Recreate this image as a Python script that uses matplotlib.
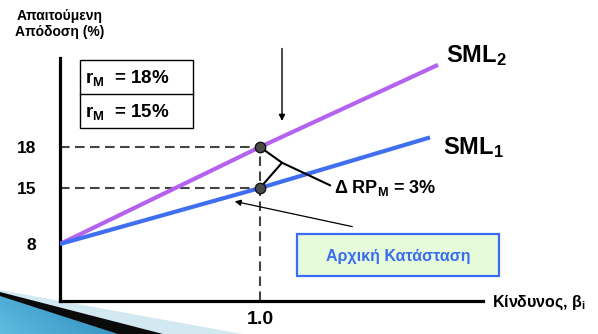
import numpy as np
import matplotlib
matplotlib.use("Agg")
import matplotlib.pyplot as plt
from matplotlib.patches import Rectangle, Polygon
from matplotlib.scale import FuncScale

plt.rcParams["font.family"] = ["Liberation Sans", "DejaVu Sans"]
plt.rcParams["mathtext.fontset"] = "custom"
plt.rcParams["mathtext.rm"] = "Liberation Sans"
plt.rcParams["mathtext.bf"] = "Liberation Sans:bold"
plt.rcParams["mathtext.it"] = "Liberation Sans:italic"

# ---- data -------------------------------------------------------------
beta_sml1 = [0.0, 1.0, 1.85]
ret_sml1 = [8.0, 15.0, 18.7]
beta_sml2 = [0.0, 1.0, 1.89]
ret_sml2 = [8.0, 18.0, 24.0]
beta_market = 1.0
rm_old = 15
rm_new = 18
ytick_vals = [8, 15, 18]
ytick_labels = ["8", "15", "18"]
xtick_vals = [1.0]
xtick_labels = ["1.0"]
box_labels = [r"r$_{\mathbf{M}}$  = 18%", r"r$_{\mathbf{M}}$  = 15%"]

# schematic (non-uniform) return axis: value -> height above the x axis
y_knots = [0.0, 8.0, 15.0, 18.0, 24.5, 40.0]
y_height = [0.0, 57.0, 113.0, 154.0, 243.0, 455.0]


def fwd(v):
    return np.interp(v, y_knots, y_height)


def inv(p):
    return np.interp(p, y_height, y_knots)


W, H = 598, 334
fig = plt.figure(figsize=(W / 100, H / 100), dpi=100)


def fp(x, y):
    """figure-pixel (from top-left) to figure fraction"""
    return x / W, 1 - y / H


# slide decoration in the lower-left corner
light = Polygon([fp(0, 290), fp(242, 334), fp(0, 334)], closed=True,
                transform=fig.transFigure, fc="#d3e9f1", ec="none", zorder=0)
dark = Polygon([fp(0, 292), fp(163, 334), fp(0, 334)], closed=True,
               transform=fig.transFigure, fc="#0a0a0a", ec="none", zorder=0)
fig.patches.append(light)
fig.patches.append(dark)

gax = fig.add_axes([0, 0, 120 / W, 40 / H], zorder=0.5)
gax.axis("off")
gax.set_xlim(0, 120)
gax.set_ylim(0, 40)
grad = np.linspace(0, 1, 64)[None, :] * 0.7 + np.linspace(1, 0, 32)[:, None] * 0.3
img = gax.imshow(grad, cmap=matplotlib.colors.LinearSegmentedColormap.from_list(
    "deco", ["#5cbde0", "#2a84b8"]), aspect="auto", extent=(0, 120, 0, 40),
    origin="upper")
blue = Polygon([(0, 38), (118, 0), (0, 0)], closed=True, transform=gax.transData,
               fc="none", ec="none")
gax.add_patch(blue)
img.set_clip_path(blue)

ax = fig.add_axes([60 / W, (H - 301) / H, (483 - 60) / W, (301 - 58) / H], zorder=1)
ax.set_yscale(FuncScale(ax.yaxis, (fwd, inv)))
ax.set_ylim(0, 24.5)
ax.set_xlim(0, 2.115)
ax.patch.set_alpha(0)

for s in ["top", "right"]:
    ax.spines[s].set_visible(False)
for s in ["left", "bottom"]:
    ax.spines[s].set_linewidth(2.3)
    ax.spines[s].set_color("black")

ax.set_yticks(ytick_vals)
ax.set_yticklabels(ytick_labels, fontsize=12.5, fontweight="bold")
ax.set_xticks(xtick_vals)
ax.set_xticklabels(xtick_labels, fontsize=14, fontweight="bold")
ax.tick_params(axis="y", length=0, pad=17)
ax.tick_params(axis="x", length=0, pad=7)
ax.yaxis.set_minor_locator(matplotlib.ticker.NullLocator())

# SML lines
ax.plot(beta_sml2, ret_sml2, color="#b463f0", lw=3.0, solid_capstyle="butt", zorder=3)
ax.plot(beta_sml1, ret_sml1, color="#3f6ff0", lw=3.0, solid_capstyle="butt", zorder=3)

# dashed guides
dash = dict(color="#444444", lw=1.5, linestyle=(0, (4.6, 2.6)), zorder=2)
ax.plot([0, beta_market], [rm_new, rm_new], **dash)
ax.plot([0, beta_market], [rm_old, rm_old], **dash)
ax.plot([beta_market, beta_market], [0, rm_new], clip_on=False, **dash)

# market portfolio points
ax.plot([beta_market, beta_market], [rm_new, rm_old], "o", ms=7.5,
        mfc="#4a4a4a", mec="#111111", mew=1.0, zorder=5)

# bracket for the risk-premium change
vx, vy = 1.11, 16.85
ax.plot([beta_market, vx, beta_market], [rm_new, vy, rm_old], color="black", lw=1.5, zorder=4)
ax.plot([vx, 1.35], [vy, 15.2], color="black", lw=1.5, zorder=4)
ax.text(1.37, 15.0, r"Δ RP$_{\mathbf{M}}$ = 3%", fontsize=13, fontweight="bold",
        va="center", ha="left")

# arrows
ax.annotate("", xy=(1.11, 19.7), xytext=(1.11, 25.4),
            arrowprops=dict(arrowstyle="-|>", color="black", lw=1.0, mutation_scale=9),
            annotation_clip=False)
ax.annotate("", xy=(0.86, 13.4), xytext=(1.475, 10.1),
            arrowprops=dict(arrowstyle="-|>", color="black", lw=0.9, mutation_scale=9),
            annotation_clip=False)

# SML labels
fig.text(*fp(446, 56), r"SML$_{\mathbf{2}}$", fontsize=17, fontweight="bold", va="center")
fig.text(*fp(443, 148), r"SML$_{\mathbf{1}}$", fontsize=17, fontweight="bold", va="center")

# axis titles
fig.text(*fp(60, 24), "Απαιτούμενη\nΑπόδοση (%)", fontsize=10, fontweight="bold",
         ha="center", va="center", linespacing=1.1)
fig.text(*fp(492, 303), r"Κίνδυνος, β$_{\mathbf{i}}$", fontsize=11.5, fontweight="bold",
         ha="left", va="center")

# market return box
r1 = Rectangle(fp(80, 128), 113 / W, 68 / H, transform=fig.transFigure,
               fill=False, ec="black", lw=1.0, zorder=6)
fig.patches.append(r1)
fig.lines.append(plt.Line2D([80 / W, 193 / W], [1 - 94 / H, 1 - 94 / H],
                            transform=fig.transFigure, color="black", lw=1.0))
fig.text(*fp(85, 78), box_labels[0], fontsize=13.5, fontweight="bold", va="center")
fig.text(*fp(85, 112), box_labels[1], fontsize=13.5, fontweight="bold", va="center")

# initial-state box
r2 = Rectangle(fp(297, 276), 202 / W, 42 / H, transform=fig.transFigure,
               fc="#e6fbd9", ec="#3b6cf5", lw=1.6, zorder=6)
fig.patches.append(r2)
fig.text(*fp(398, 256), "Αρχική Κατάσταση", fontsize=11.5, fontweight="bold",
         color="#3a6cf0", ha="center", va="center", zorder=7)

fig.savefig("out.png", dpi=100)
